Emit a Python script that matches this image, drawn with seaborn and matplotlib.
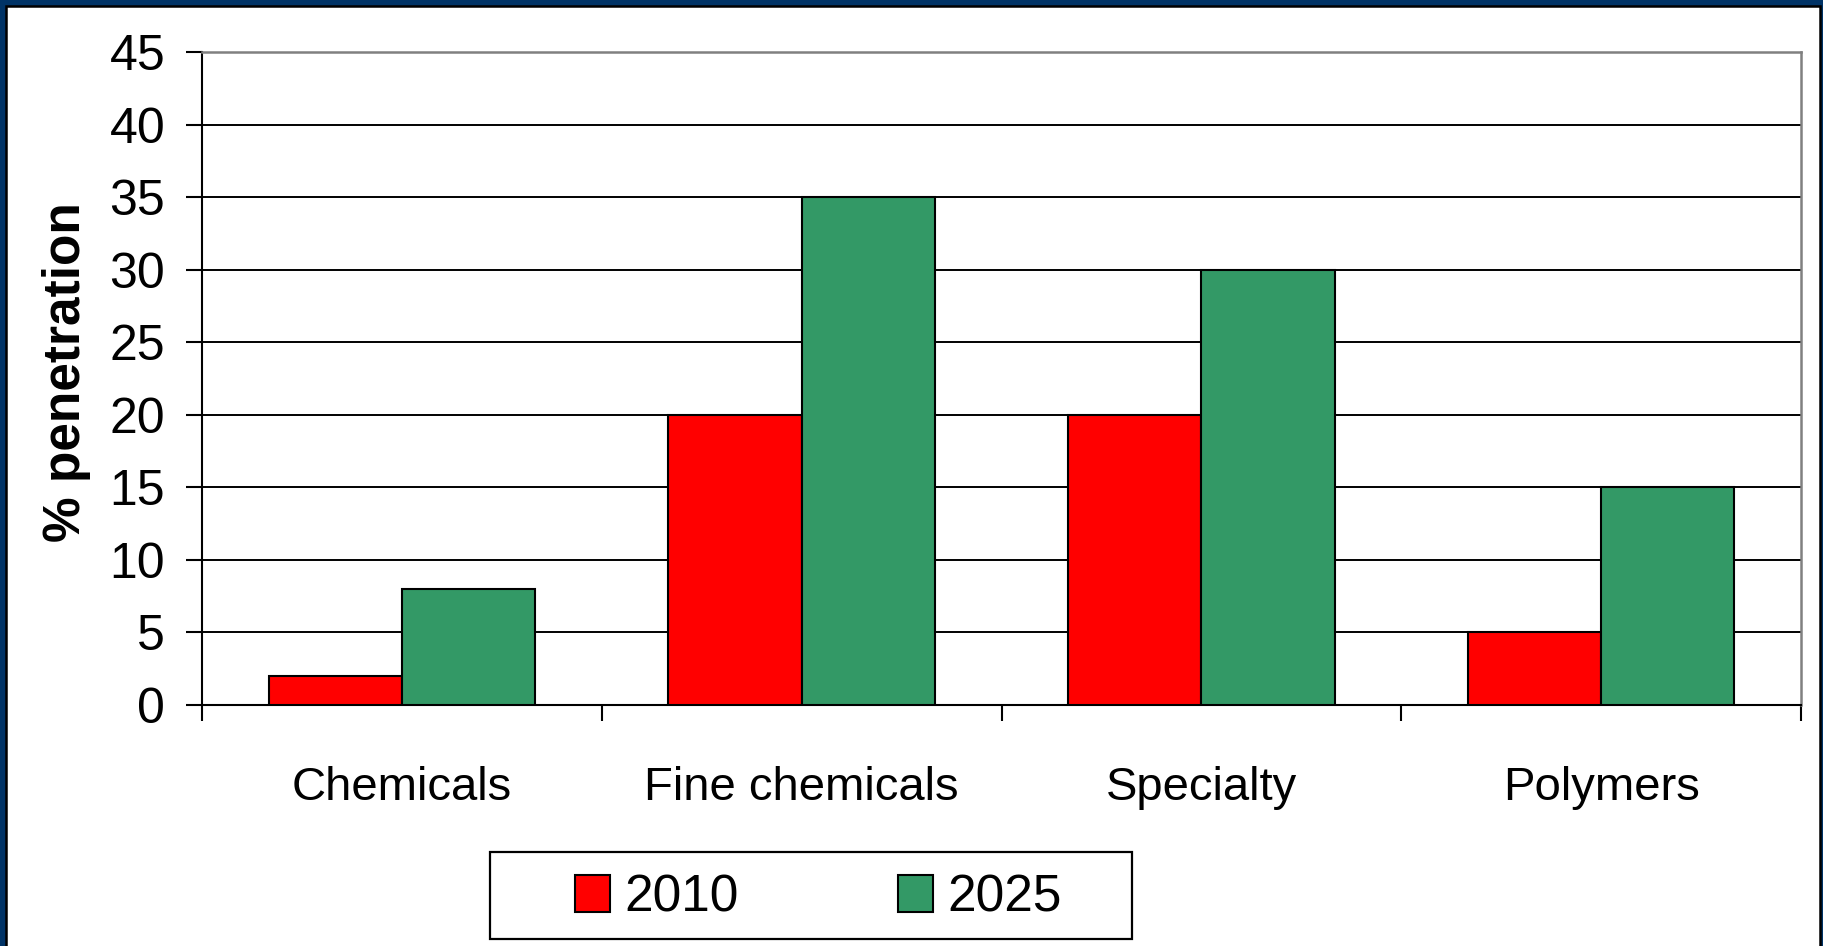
import numpy as np
import pandas as pd
import seaborn as sns
import matplotlib.pyplot as plt
from matplotlib.patches import Rectangle

# chart values
categories = ["Chemicals", "Fine chemicals", "Specialty", "Polymers"]
years = ["2010", "2025"]
vals_2010 = [2, 20, 20, 5]
vals_2025 = [8, 35, 30, 15]
y_ticks = [0, 5, 10, 15, 20, 25, 30, 35, 40, 45]
bar_colors = {"2010": "#FF0000", "2025": "#339966"}

df = pd.DataFrame({
    "category": categories * 2,
    "year": [years[0]] * len(categories) + [years[1]] * len(categories),
    "value": vals_2010 + vals_2025,
})

sns.set_style("white")
plt.rcParams['font.family'] = ['Liberation Sans', 'DejaVu Sans']
plt.rcParams['text.color'] = 'black'
plt.rcParams['axes.labelcolor'] = 'black'
plt.rcParams['xtick.color'] = 'black'
plt.rcParams['ytick.color'] = 'black'

W, H = 1824, 946
fig = plt.figure(figsize=(W / 100, H / 100), dpi=100)
fig.patch.set_facecolor("#003366")

# white panel with thin black outline inside the navy border
fig.patches.append(Rectangle((6 / W, -0.02), (1820 - 6) / W, 1.02 - 6 / H,
                             transform=fig.transFigure, facecolor="white",
                             edgecolor="black", linewidth=1.8, zorder=-2))

ax = fig.add_axes([202 / W, 1 - 705 / H, (1801 - 202) / W, (705 - 52) / H])
ax.set_zorder(3)
ax.set_facecolor("white")

sns.barplot(data=df, x="category", y="value", hue="year", order=categories,
            hue_order=years, palette=bar_colors, width=2 / 3,
            edgecolor="black", linewidth=1.5, saturation=1, errorbar=None,
            ax=ax, zorder=3)

ax.set_ylim(0, 45)
ax.set_xlim(-0.5, len(categories) - 0.5)
ax.set_yticks(y_ticks)
ax.set_yticklabels([str(t) for t in y_ticks], fontsize=36)
ax.yaxis.grid(True, color="black", linewidth=1.4)
ax.set_axisbelow(True)

# category separators as major ticks, labels as minor ticks at centers
ax.set_xticks([i - 0.5 for i in range(len(categories) + 1)])
ax.set_xticklabels([])
ax.set_xticks(range(len(categories)), minor=True)
ax.set_xticklabels(categories, minor=True, fontsize=34)
ax.tick_params(axis="x", which="major", direction="out", length=11.5, width=1.5,
               color="black", bottom=True)
ax.tick_params(axis="x", which="minor", length=0, pad=44, bottom=True)
ax.tick_params(axis="y", direction="out", length=11.5, width=1.5, color="black",
               pad=15, left=True)
ax.set_xlabel("")

ax.set_ylabel("% penetration", fontsize=37, fontweight="bold", va="center")
ax.yaxis.set_label_coords(-0.085, (705 - 372) / (705 - 52))

for side in ["left", "bottom"]:
    ax.spines[side].set_color("black")
    ax.spines[side].set_linewidth(1.5)
for side in ["top", "right"]:
    ax.spines[side].set_color("#808080")
    ax.spines[side].set_linewidth(1.8)

# legend without own frame, the box is drawn separately
handles, labels = ax.get_legend_handles_labels()
ax.get_legend().remove()
for h in handles:
    h.set_edgecolor("black")
    h.set_linewidth(1.5)
fig.legend(handles, labels, loc="center", ncol=2,
           bbox_to_anchor=(818 / W, 1 - 898 / H), frameon=False, fontsize=37,
           handlelength=0.69, handleheight=0.73, handletextpad=0.27,
           columnspacing=3.1, borderpad=0)
fig.patches.append(Rectangle((490 / W, 1 - 939 / H), (1132 - 490) / W, (939 - 852) / H,
                             transform=fig.transFigure, facecolor="white",
                             edgecolor="black", linewidth=1.6, zorder=-1))

plt.savefig("out.png", dpi=100, facecolor=fig.get_facecolor())
plt.close()
